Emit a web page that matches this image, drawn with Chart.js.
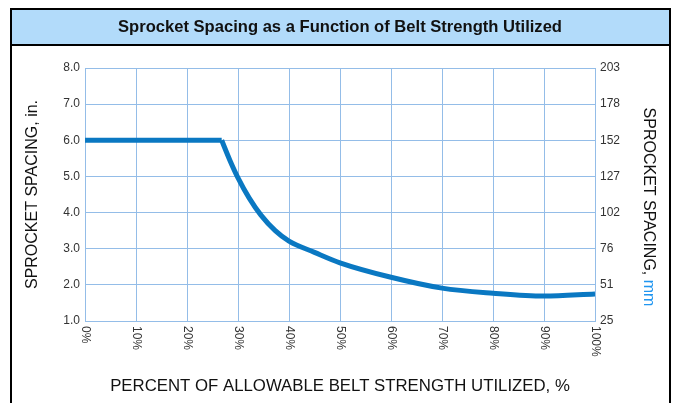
<!DOCTYPE html>
<html>
<head>
<meta charset="utf-8">
<script src="https://cdn.jsdelivr.net/npm/chart.js@4.4.1/dist/chart.umd.min.js"></script>
<style>
  html, body { margin: 0; padding: 0; background: #fff; }
  #wrap { position: relative; width: 674px; height: 403px; }
</style>
</head>
<body>
<div id="wrap"><canvas id="sprocket" width="674" height="403"></canvas></div>
<script>
// data
const flatPct = [0, 26.8];
const flatIn = [6.0, 6.0];
const curvePct = [26.8, 28.4, 30, 32.2, 34.5, 37.3, 40, 45, 50, 60, 70, 80, 90, 100];
const curveIn = [6.0, 5.45, 4.96, 4.40, 3.93, 3.50, 3.21, 2.9, 2.61, 2.21, 1.91, 1.77, 1.69, 1.75];
const xTicks = [0, 10, 20, 30, 40, 50, 60, 70, 80, 90, 100];
const mmLabels = ['25', '51', '76', '102', '127', '152', '178', '203']; // for 1.0 .. 8.0 in.

const title = 'Sprocket Spacing as a Function of Belt Strength Utilized';
const gridBlue = '#94bde8';
const lineBlue = '#0a78c2';
const SANS = '"Liberation Sans", Arial, sans-serif';

const toPts = (xs, ys) => xs.map((x, i) => ({x: x, y: ys[i]}));

const framePlugin = {
    id: 'frame',
    beforeDraw(chart) {
        const c = chart.ctx;
        c.save();
        c.fillStyle = '#fff';
        c.fillRect(0, 0, chart.width, chart.height);
        // title band
        c.fillStyle = '#b2dbfa';
        c.fillRect(11, 9, 659, 36);
        c.strokeStyle = '#000';
        c.lineWidth = 2;
        c.beginPath();
        c.moveTo(11, 403); c.lineTo(11, 9); c.lineTo(670, 9); c.lineTo(670, 403);
        c.moveTo(11, 45); c.lineTo(670, 45);
        c.stroke();
        // narrow bold title: squeeze Liberation Sans to the reference width
        c.fillStyle = '#111';
        c.font = 'bold 17px ' + SANS;
        c.textAlign = 'center';
        c.textBaseline = 'middle';
        const sx = 444 / c.measureText(title).width;
        c.translate(340, 27);
        c.scale(sx, 1);
        c.fillText(title, 0, 0);
        c.restore();
    },
    afterDraw(chart) {
        const c = chart.ctx;
        const xs = chart.scales.x;
        c.save();
        // x tick labels, turned to read top to bottom
        c.fillStyle = '#333';
        c.font = '12px ' + SANS;
        c.textAlign = 'left';
        c.textBaseline = 'middle';
        xTicks.forEach(v => {
            c.save();
            c.translate(xs.getPixelForValue(v), chart.chartArea.bottom + 5);
            c.rotate(Math.PI / 2);
            c.fillText(v + '%', 0, 0);
            c.restore();
        });
        // right axis title, "mm" in blue
        c.font = '16px ' + SANS;
        const a = 'SPROCKET SPACING, ';
        const b = 'mm';
        const wa = c.measureText(a).width;
        const wb = c.measureText(b).width;
        c.translate(648, 207);
        c.rotate(Math.PI / 2);
        c.textAlign = 'left';
        c.fillStyle = '#111';
        c.fillText(a, -(wa + wb) / 2, 0);
        c.fillStyle = '#2196f0';
        c.fillText(b, -(wa + wb) / 2 + wa, 0);
        c.restore();
    }
};

new Chart('sprocket', {
    type: 'line',
    data: {
        datasets: [{
            data: toPts(flatPct, flatIn),
            borderColor: lineBlue,
            borderWidth: 5,
            pointRadius: 0,
            tension: 0
        }, {
            data: toPts(curvePct, curveIn),
            borderColor: lineBlue,
            borderWidth: 5,
            pointRadius: 0,
            cubicInterpolationMode: 'monotone'
        }]
    },
    options: {
        responsive: false,
        animation: false,
        layout: { padding: { top: 68, bottom: 0, left: 23, right: 12 } },
        plugins: { legend: { display: false }, tooltip: { enabled: false } },
        scales: {
            x: {
                type: 'linear',
                min: 0,
                max: 100,
                ticks: { display: false, stepSize: 10 },
                grid: { color: gridBlue, drawTicks: false },
                border: { color: gridBlue },
                title: {
                    display: true,
                    text: 'PERCENT OF ALLOWABLE BELT STRENGTH UTILIZED, %',
                    color: '#111',
                    font: { family: SANS, size: 16.8 },
                    padding: { top: 0, bottom: 7 }
                },
                afterFit: s => { s.height = 82; }
            },
            y: {
                position: 'left',
                min: 1,
                max: 8,
                ticks: {
                    stepSize: 1,
                    padding: 5,
                    color: '#333',
                    font: { family: SANS, size: 12 },
                    callback: v => v.toFixed(1)
                },
                grid: { color: gridBlue, drawTicks: false },
                border: { color: gridBlue },
                title: {
                    display: true,
                    text: 'SPROCKET SPACING, in.',
                    color: '#111',
                    font: { family: SANS, size: 16 },
                    padding: { top: 0, bottom: 0 }
                },
                afterFit: s => { s.width = 62; }
            },
            y2: {
                position: 'right',
                min: 1,
                max: 8,
                ticks: {
                    stepSize: 1,
                    padding: 5,
                    color: '#333',
                    font: { family: SANS, size: 12 },
                    callback: v => mmLabels[Math.round(v) - 1]
                },
                grid: { drawOnChartArea: false, drawTicks: false },
                border: { color: gridBlue },
                afterFit: s => { s.width = 67; }
            }
        }
    },
    plugins: [framePlugin]
});
</script>
</body>
</html>
